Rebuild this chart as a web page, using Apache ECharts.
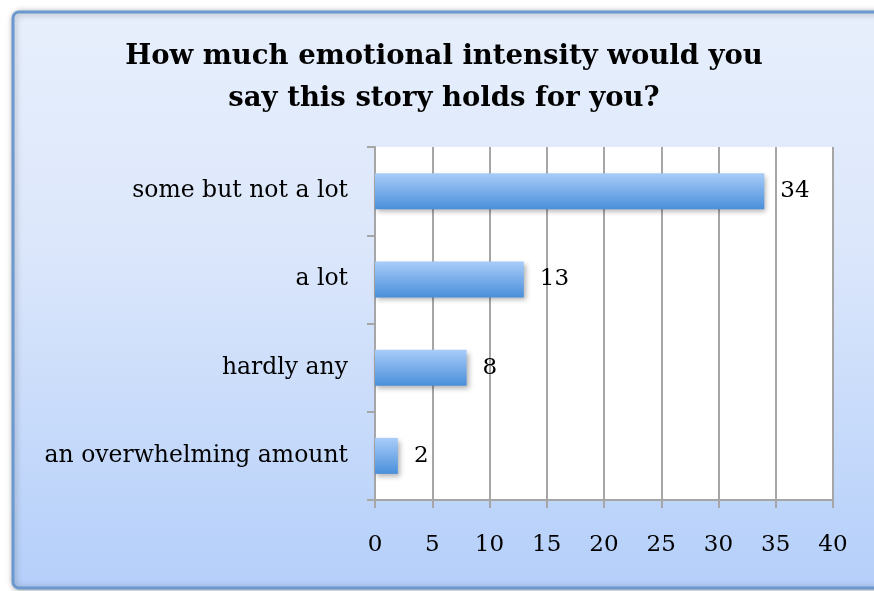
<!DOCTYPE html>
<html><head><meta charset="utf-8">
<script src="https://cdn.jsdelivr.net/npm/echarts@6/dist/echarts.min.js"></script>
<style>html,body{margin:0;padding:0;background:#fff}#c{width:874px;height:591px}</style>
</head><body><div id="c"></div>
<script>
var titleText = 'How much emotional intensity would you\nsay this story holds for you?';
var categories = ['some but not a lot', 'a lot', 'hardly any', 'an overwhelming amount'];
var values = [34, 13, 8, 2];
var xMin = 0, xMax = 40, xStep = 5;

var chart = echarts.init(document.getElementById('c'));
var serif = '"DejaVu Serif", serif';
chart.setOption({
  animation: false,
  graphic: [{
    type: 'rect', z: -10, silent: true,
    shape: {x: 13, y: 12, width: 880, height: 576, r: 6},
    style: {
      fill: new echarts.graphic.LinearGradient(0, 0, 0, 1, [
        {offset: 0, color: '#e7effc'},
        {offset: 0.4, color: '#dce7fb'},
        {offset: 1, color: '#b4cffa'}
      ]),
      stroke: '#6b98cf', lineWidth: 3,
      shadowBlur: 6, shadowColor: 'rgba(0,0,0,0.3)', shadowOffsetX: 1, shadowOffsetY: 1
    }
  }],
  title: {
    text: titleText, left: 439, top: 31, textAlign: 'center',
    textStyle: {fontFamily: serif, fontWeight: 'bold', fontSize: 27.5, lineHeight: 42, color: '#000'}
  },
  grid: {left: 375, right: 41, top: 147, bottom: 91, show: true, backgroundColor: '#fff', borderWidth: 0},
  xAxis: {
    type: 'value', min: xMin, max: xMax, interval: xStep,
    axisLine: {show: true, lineStyle: {color: '#a6a6a6', width: 2}},
    axisTick: {show: true, length: 8, lineStyle: {color: '#a6a6a6', width: 2}},
    axisLabel: {margin: 34, fontFamily: serif, fontSize: 23, color: '#000'},
    splitLine: {show: true, lineStyle: {color: '#a6a6a6', width: 2}}
  },
  yAxis: {
    type: 'category', data: categories, inverse: true,
    axisLine: {show: true, lineStyle: {color: '#a6a6a6', width: 2}},
    axisTick: {show: true, length: 8, lineStyle: {color: '#a6a6a6', width: 2}},
    axisLabel: {margin: 27, fontFamily: serif, fontSize: 23.5, color: '#000'}
  },
  series: [{
    type: 'bar', data: values, barWidth: 36,
    itemStyle: {
      color: new echarts.graphic.LinearGradient(0, 0, 0, 1, [
        {offset: 0, color: '#a9cdf9'},
        {offset: 1, color: '#4a8fdb'}
      ]),
      shadowBlur: 5, shadowOffsetX: 2, shadowOffsetY: 3, shadowColor: 'rgba(0,0,0,0.3)'
    },
    label: {show: true, position: 'right', distance: 16, fontFamily: serif, fontSize: 23, color: '#000'}
  }]
});
</script></body></html>
